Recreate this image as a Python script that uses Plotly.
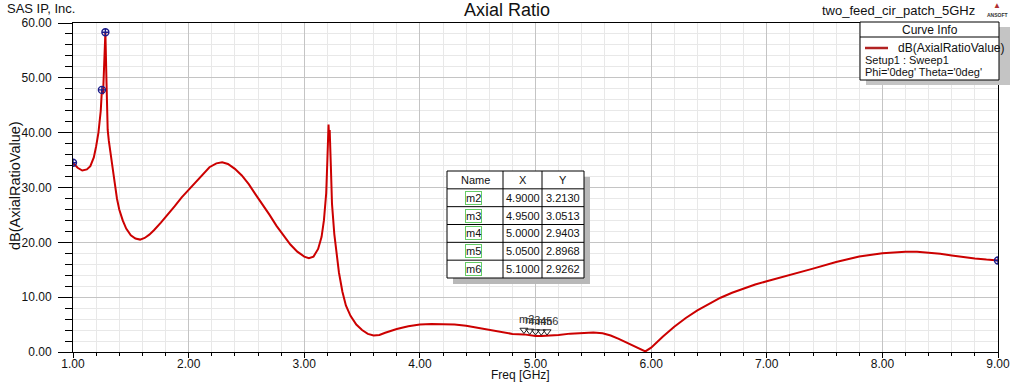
import plotly.graph_objects as go

# ---------------- data ----------------
freq = [1.00, 1.04, 1.08, 1.12, 1.15, 1.18, 1.20, 1.22, 1.24, 1.25, 1.26, 1.27, 1.28, 1.29, 1.30,
        1.31, 1.32, 1.34, 1.36, 1.38, 1.40, 1.43, 1.46, 1.50, 1.54, 1.58, 1.62, 1.66, 1.70, 1.76,
        1.82, 1.88, 1.94, 2.00, 2.06, 2.12, 2.18, 2.24, 2.29, 2.34, 2.40, 2.46, 2.52, 2.58, 2.64,
        2.70, 2.76, 2.82, 2.88, 2.94, 3.00, 3.04, 3.08, 3.12, 3.15, 3.17, 3.19, 3.20, 3.21, 3.215,
        3.22, 3.23, 3.24, 3.26, 3.28, 3.30, 3.33, 3.36, 3.40, 3.45, 3.50, 3.55, 3.60, 3.65, 3.70,
        3.80, 3.90, 4.00, 4.10, 4.20, 4.30, 4.40, 4.50, 4.60, 4.70, 4.80, 4.90, 4.95, 5.00, 5.05,
        5.10, 5.20, 5.30, 5.40, 5.50, 5.58, 5.65, 5.72, 5.80, 5.88, 5.95, 6.00, 6.05, 6.10, 6.20,
        6.30, 6.40, 6.50, 6.60, 6.70, 6.80, 6.90, 7.00, 7.20, 7.40, 7.60, 7.80, 8.00, 8.10, 8.20,
        8.30, 8.40, 8.50, 8.60, 8.70, 8.80, 8.90, 9.00]
ar_db = [34.5, 33.6, 33.1, 33.3, 33.9, 35.5, 37.5, 40.0, 44.0, 47.8, 47.0, 52.0, 58.3, 49.0, 40.5,
         38.5, 36.8, 33.5, 31.0, 28.0, 26.0, 24.0, 22.5, 21.3, 20.7, 20.5, 20.8, 21.4, 22.2, 23.6,
         25.0, 26.6, 28.2, 29.6, 31.1, 32.5, 33.7, 34.4, 34.6, 34.3, 33.4, 32.2, 30.6, 28.7, 26.9,
         25.0, 23.0, 21.2, 19.6, 18.3, 17.4, 17.1, 17.4, 18.8, 21.0, 24.0, 29.0, 35.0, 41.5, 39.0,
         40.5, 34.0, 27.0, 21.5, 17.5, 14.5, 11.0, 8.5, 6.6, 5.0, 4.0, 3.3, 3.0, 3.1, 3.5,
         4.2, 4.7, 5.0, 5.1, 5.1, 5.0, 4.8, 4.4, 4.0, 3.6, 3.3, 3.213, 3.0513, 2.9403, 2.8968,
         2.9262, 3.1, 3.35, 3.5, 3.55, 3.4, 3.0, 2.4, 1.6, 0.8, 0.1, 0.8, 1.8, 2.8, 4.6,
         6.2, 7.6, 8.8, 9.9, 10.8, 11.6, 12.3, 12.9, 14.0, 15.2, 16.4, 17.4, 18.0, 18.2, 18.3,
         18.3, 18.15, 17.9, 17.6, 17.3, 17.05, 16.85, 16.7]

mk_names = ["m2", "m3", "m4", "m5", "m6"]
mk_x = [4.9000, 4.9500, 5.0000, 5.0500, 5.1000]
mk_y = [3.2130, 3.0513, 2.9403, 2.8968, 2.9262]

pt_x = [1.00, 1.25, 1.28, 9.00]
pt_y = [34.5, 47.8, 58.3, 16.7]

x_ticks = [1, 2, 3, 4, 5, 6, 7, 8, 9]
y_ticks = [0, 10, 20, 30, 40, 50, 60]

curve_name = "dB(AxialRatioValue)"
legend_lines = ["Setup1 : Sweep1", "Phi='0deg' Theta='0deg'"]
table_header = ["Name", "X", "Y"]

# ---------------- geometry helpers ----------------
W, H = 1015, 383
L, R, T, B = 73, 998, 23, 352
FONT = "Liberation Sans, Arial, sans-serif"


def px(x):
    return (x - L) / (R - L)


def py(y):
    return (B - y) / (B - T)


annotations = []
shapes = []


def ann(xp, yp, text, size=11, xanchor="center", **kw):
    d = dict(x=px(xp), y=py(yp), xref="paper", yref="paper", text=text, showarrow=False,
             xanchor=xanchor, yanchor="middle",
             font=dict(family=FONT, size=size, color=kw.pop("color", "#111111")))
    d.update(kw)
    annotations.append(d)


def rect(x0, y0, x1, y1, fill, line_color=None):
    shapes.append(dict(type="rect", xref="paper", yref="paper", x0=px(x0), x1=px(x1),
                       y0=py(y0), y1=py(y1), fillcolor=fill, layer="above",
                       line=dict(color=line_color or fill, width=1 if line_color else 0)))


def hline(x0, x1, y, color="black", width=1):
    shapes.append(dict(type="line", xref="paper", yref="paper", x0=px(x0), x1=px(x1),
                       y0=py(y), y1=py(y), line=dict(color=color, width=width), layer="above"))


def vline(x, y0, y1, color="black", width=1):
    shapes.append(dict(type="line", xref="paper", yref="paper", x0=px(x), x1=px(x),
                       y0=py(y0), y1=py(y1), line=dict(color=color, width=width), layer="above"))


fig = go.Figure()

fig.add_trace(go.Scatter(x=freq, y=ar_db, mode="lines", name=curve_name,
                         line=dict(color="#cc0000", width=2), showlegend=False))
fig.add_trace(go.Scatter(x=pt_x, y=pt_y, mode="markers", showlegend=False,
                         marker=dict(symbol="circle-cross-open", size=7,
                                     color="#1c1c8a", line=dict(width=1.4))))
fig.add_trace(go.Scatter(x=mk_x, y=[v + 0.8 for v in mk_y], mode="markers", showlegend=False,
                         marker=dict(symbol="triangle-down-open", size=7,
                                     color="#222222", line=dict(width=1))))

# marker labels near the curve
for n, xv, yv in zip(mk_names, mk_x, mk_y):
    annotations.append(dict(x=xv, y=yv, xref="x", yref="y", text=n, showarrow=False,
                            xanchor="center", yanchor="middle", yshift=15, xshift=3,
                            font=dict(family=FONT, size=11, color="#333333")))

# ---------- top texts ----------
ann(5, 9, "SAS IP, Inc.", 13, xanchor="left")
ann(507, 10, "Axial Ratio", 18)
ann(898, 10, "two_feed_cir_patch_5GHz", 13)
ann(997, 6, "▲", 8, color="#b03030")
ann(997, 15, "<b>ANSOFT</b>", 5, color="#333333")

# axis titles
ann(520, 375, "Freq [GHz]", 12)
ann(15, 186, curve_name, 14.5, textangle=-90)

# ---------- curve info box ----------
rect(866, 27, 1010, 85, "#c4c4c4")
rect(860, 22, 999, 80, "white", "black")
hline(860, 999, 37)
hline(865, 888, 48, color="#b22222", width=2.5)
ann(930, 30, "Curve Info", 12)
ann(896, 48, curve_name, 12, xanchor="left")
for i, t in enumerate(legend_lines):
    ann(863, 60 + 12 * i, t, 11, xanchor="left")

# ---------- marker table ----------
tx0, tx1, ty0, ty1 = 447, 584, 171, 278
cols = [447, 503, 542, 584]
nrows = len(mk_names) + 1
rh = (ty1 - ty0) / nrows
rect(tx0 + 6, ty0 + 6, tx1 + 6, ty1 + 6, "#b8b8b8")
rect(tx0, ty0, tx1, ty1, "white", "black")
for c in cols[1:-1]:
    vline(c, ty0, ty1)
for r in range(1, nrows):
    hline(tx0, tx1, ty0 + r * rh)
centers = [(cols[i] + cols[i + 1]) / 2 for i in range(3)]
for j, h in enumerate(table_header):
    ann(centers[j], ty0 + rh / 2, h, 11)
for i, (n, xv, yv) in enumerate(zip(mk_names, mk_x, mk_y)):
    yc = ty0 + (i + 1.5) * rh
    ann(centers[0] - 2, yc, n, 11, bordercolor="#66cc66", borderwidth=1, borderpad=0)
    ann(centers[1], yc, f"{xv:.4f}", 11)
    ann(centers[2], yc, f"{yv:.4f}", 11)

fig.update_layout(
    width=W, height=H,
    margin=dict(l=L, r=W - R, t=T, b=H - B, pad=0, autoexpand=False),
    paper_bgcolor="white", plot_bgcolor="white",
    showlegend=False,
    shapes=shapes, annotations=annotations,
    font=dict(family=FONT, size=12, color="#111"),
)
fig.update_xaxes(range=[1, 9], tickvals=x_ticks, ticktext=[f"{v:.2f}" for v in x_ticks],
                 automargin=False, ticklabelstandoff=-4,
                 showgrid=True, gridcolor="#c4c4c4", gridwidth=1,
                 minor=dict(dtick=0.2, showgrid=True, gridcolor="#e8e8e8", ticks="outside",
                            ticklen=3, tickcolor="black"),
                 ticks="outside", ticklen=5, tickcolor="black",
                 showline=True, linecolor="black", linewidth=1, mirror=True, zeroline=False,
                 tickfont=dict(family=FONT, size=12, color="#111"))
fig.update_yaxes(range=[0, 60], tickvals=y_ticks, ticktext=[f"{v:.2f}" for v in y_ticks],
                 automargin=False, ticklabelstandoff=4,
                 showgrid=True, gridcolor="#c4c4c4", gridwidth=1,
                 minor=dict(dtick=2, showgrid=True, gridcolor="#e8e8e8", ticks="outside",
                            ticklen=7, tickcolor="black"),
                 ticks="outside", ticklen=14, tickcolor="black",
                 showline=True, linecolor="black", linewidth=1, mirror=True, zeroline=False,
                 tickfont=dict(family=FONT, size=12, color="#111"))

fig.write_html("out.html", config={"displayModeBar": False},
               post_script="document.body.style.margin='0';document.body.style.overflow='hidden';")
